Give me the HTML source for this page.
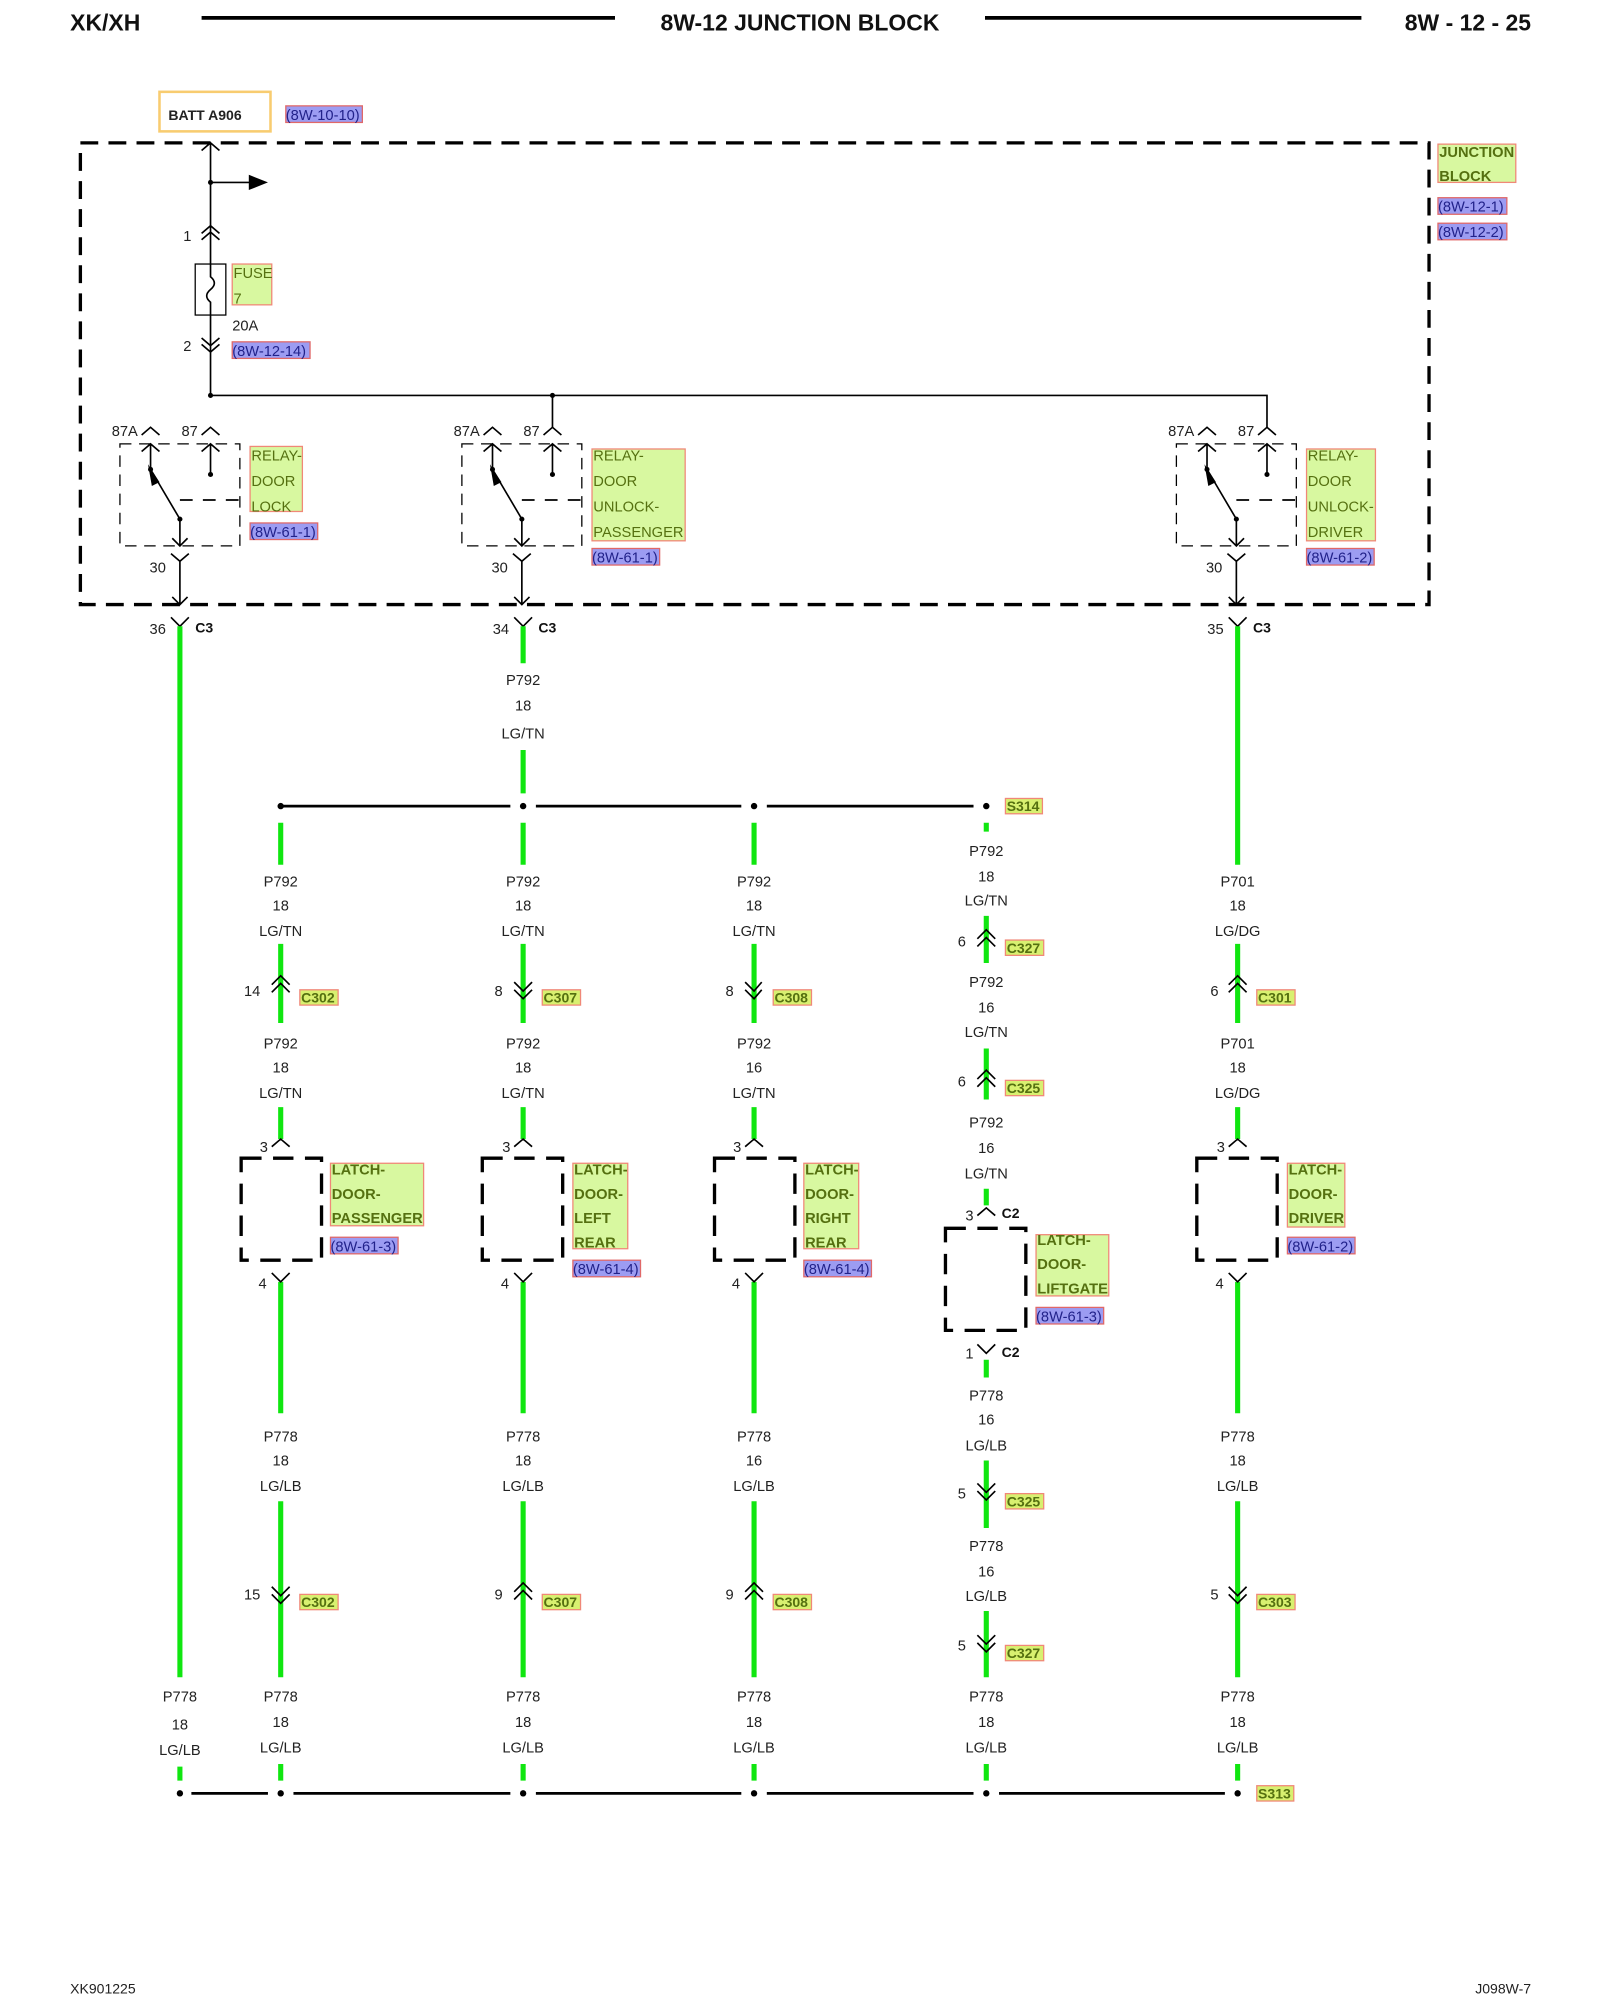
<!DOCTYPE html>
<html><head><meta charset="utf-8"><style>
html,body{margin:0;padding:0;background:#fff}
svg{display:block}
text{font-family:"Liberation Sans",sans-serif;font-size:11.5px;fill:#222}
.m{text-anchor:middle}
.e{text-anchor:end}
.h{font-size:18px;font-weight:bold;fill:#111}
.lb{fill:#d8f8a0;stroke:#f08878;stroke-width:1}
.lt{fill:#557010}
.bt{fill:#557010;font-weight:bold}
.rb{fill:#9c9cf2;stroke:#e06868;stroke-width:1}
.rt{fill:#22228a}
.cb{fill:#d8f070;stroke:#f08878;stroke-width:1}
.ct{fill:#557010;font-weight:bold;font-size:11px}
.cn{fill:#111;font-weight:bold;font-size:11px}
.g{stroke:#10e610;stroke-width:4;fill:none}
.k{stroke:#000;stroke-width:1.3;fill:none}
.kb{stroke:#000;stroke-width:2.2;fill:none}
.db{stroke:#000;stroke-width:2.6;fill:none;stroke-dasharray:14 8}
.dr{stroke:#000;stroke-width:1;fill:none;stroke-dasharray:9 6}
.dl{stroke:#000;stroke-width:2.6;fill:none;stroke-dasharray:16 9}
</style></head><body>
<svg width="1600" height="2000" viewBox="0 0 1254 1568" preserveAspectRatio="none" xmlns="http://www.w3.org/2000/svg">
<text x="55" y="24" class="h">XK/XH</text>
<line x1="158" y1="14" x2="482" y2="14" stroke="#000" stroke-width="3"/>
<text x="627" y="24" class="h m">8W-12 JUNCTION BLOCK</text>
<line x1="772" y1="14" x2="1067" y2="14" stroke="#000" stroke-width="3"/>
<text x="1200" y="24" class="h e">8W - 12 - 25</text>

<rect x="125" y="72" width="87" height="31" fill="none" stroke="#f8cc70" stroke-width="2"/>
<text x="132" y="94" style="font-weight:bold;font-size:11px">BATT A906</text>
<rect class="rb" x="224" y="83" width="60" height="13"/><text x="224" y="94" class="rt">(8W-10-10)</text>

<rect class="db" x="63" y="112" width="1057" height="362"/>
<rect class="lb" x="1127" y="113" width="61" height="30"/>
<text x="1128" y="123" class="bt">JUNCTION</text><text x="1128" y="142" class="bt">BLOCK</text>
<rect class="rb" x="1127" y="155" width="54" height="13"/><text x="1127" y="166" class="rt">(8W-12-1)</text>
<rect class="rb" x="1127" y="175" width="54" height="13"/><text x="1127" y="186" class="rt">(8W-12-2)</text>

<path class="k" d="M165 112 V310 M158 118 L165 112 L172 118"/>
<circle cx="165" cy="143" r="2" fill="#000"/>
<path class="k" d="M165 143 H196"/><path d="M195 137 L210 143 L195 149Z" fill="#000"/>
<path class="k" d="M158 183 L165 177 L172 183 M158 188 L165 182 L172 188"/>
<text x="150" y="189" class="e">1</text>
<rect x="153" y="207" width="24" height="40" fill="#fff" stroke="#000" stroke-width="1"/>
<path class="k" d="M165 207 V217 Q171 222 165 227 Q159 232 165 237 V247" fill="none"/>
<rect class="lb" x="182" y="207" width="31" height="32"/>
<text x="183" y="218" class="lt">FUSE</text><text x="183" y="238" class="lt">7</text>
<text x="182" y="259">20A</text>
<path class="k" d="M158 265 L165 271 L172 265 M158 270 L165 276 L172 270"/>
<text x="150" y="275" class="e">2</text>
<rect class="rb" x="182" y="268" width="61" height="13"/><text x="182" y="279" class="rt">(8W-12-14)</text>
<path class="k" d="M165 310 H993 V335 M433 310 V335"/>
<circle cx="165" cy="310" r="2" fill="#000"/><circle cx="433" cy="310" r="2" fill="#000"/>

<g id="r1">
<text x="108" y="342" class="e">87A</text><text x="155" y="342" class="e">87</text>
<path class="k" d="M111 341 L118 335 L125 341 M158 341 L165 335 L172 341"/>
<rect class="dr" x="94" y="348" width="94" height="80"/>
<path class="k" d="M118 348 V368 M111 354 L118 348 L125 354 M165 348 V372 M158 354 L165 348 L172 354"/>
<circle cx="118" cy="368" r="2" fill="#000"/><circle cx="165" cy="372" r="2" fill="#000"/>
<path class="k" d="M118 368 L141 407 V428 M135 422 L141 428 L147 422"/>
<path d="M116 364 L125 378 L119 381Z" fill="#000"/>
<circle cx="141" cy="407" r="2" fill="#000"/>
<path class="k" d="M141 392 H188" stroke-dasharray="10 8"/>
<path class="k" d="M134 434 L141 440 L148 434 M141 440 V474 M135 468 L141 474 L147 468"/>
<text x="130" y="449" class="e">30</text>
</g>
<use href="#r1" x="268"/>
<use href="#r1" x="828"/>
<rect class="lb" x="196" y="350" width="41" height="51"/>
<text x="197" y="361" class="lt">RELAY-</text><text x="197" y="381" class="lt">DOOR</text><text x="197" y="401" class="lt">LOCK</text>
<rect class="rb" x="196" y="410" width="53" height="13"/><text x="196" y="421" class="rt">(8W-61-1)</text>
<rect class="lb" x="464" y="352" width="73" height="72"/>
<text x="465" y="361" class="lt">RELAY-</text><text x="465" y="381" class="lt">DOOR</text><text x="465" y="401" class="lt">UNLOCK-</text><text x="465" y="421" class="lt">PASSENGER</text>
<rect class="rb" x="464" y="430" width="53" height="13"/><text x="464" y="441" class="rt">(8W-61-1)</text>
<rect class="lb" x="1024" y="352" width="54" height="72"/>
<text x="1025" y="361" class="lt">RELAY-</text><text x="1025" y="381" class="lt">DOOR</text><text x="1025" y="401" class="lt">UNLOCK-</text><text x="1025" y="421" class="lt">DRIVER</text>
<rect class="rb" x="1024" y="430" width="53" height="13"/><text x="1024" y="441" class="rt">(8W-61-2)</text>

<g class="k"><path d="M134 484 L141 491 L148 484 M403 484 L410 491 L417 484 M963 484 L970 491 L977 484"/></g>
<text x="130" y="497" class="e">36</text><text x="153" y="496" class="cn">C3</text>
<text x="399" y="497" class="e">34</text><text x="422" y="496" class="cn">C3</text>
<text x="959" y="497" class="e">35</text><text x="982" y="496" class="cn">C3</text>

<path class="g" d="M141 491 V1315 M141 1385 V1396
M410 491 V520 M410 588 V622
M220 645 V678 M220 740 V802 M220 868 V893 M220 1005 V1108 M220 1177 V1315 M220 1383 V1396
M410 645 V678 M410 740 V802 M410 868 V893 M410 1005 V1108 M410 1177 V1315 M410 1383 V1396
M591 645 V678 M591 740 V802 M591 868 V893 M591 1005 V1108 M591 1177 V1315 M591 1383 V1396
M773 645 V652 M773 718 V755 M773 822 V862 M773 932 V945 M773 1066 V1080 M773 1145 V1198 M773 1263 V1315 M773 1383 V1396
M970 491 V678 M970 740 V802 M970 868 V893 M970 1005 V1108 M970 1177 V1315 M970 1383 V1396"/>

<path class="kb" d="M220 632 H400 M420 632 H581 M601 632 H763"/>
<g fill="#000"><circle cx="220" cy="632" r="2.5"/><circle cx="410" cy="632" r="2.5"/><circle cx="591" cy="632" r="2.5"/><circle cx="773" cy="632" r="2.5"/></g>
<rect class="cb" x="788" y="626" width="29" height="12"/><text x="789" y="636" class="ct">S314</text>

<text x="410" y="537" class="m">P792</text><text x="410" y="557" class="m">18</text><text x="410" y="579" class="m">LG/TN</text>

<g>
<text x="220" y="695" class="m">P792</text><text x="220" y="714" class="m">18</text><text x="220" y="734" class="m">LG/TN</text>
<text x="410" y="695" class="m">P792</text><text x="410" y="714" class="m">18</text><text x="410" y="734" class="m">LG/TN</text>
<text x="591" y="695" class="m">P792</text><text x="591" y="714" class="m">18</text><text x="591" y="734" class="m">LG/TN</text>
<text x="970" y="695" class="m">P701</text><text x="970" y="714" class="m">18</text><text x="970" y="734" class="m">LG/DG</text>
<text x="220" y="822" class="m">P792</text><text x="220" y="841" class="m">18</text><text x="220" y="861" class="m">LG/TN</text>
<text x="410" y="822" class="m">P792</text><text x="410" y="841" class="m">18</text><text x="410" y="861" class="m">LG/TN</text>
<text x="591" y="822" class="m">P792</text><text x="591" y="841" class="m">16</text><text x="591" y="861" class="m">LG/TN</text>
<text x="970" y="822" class="m">P701</text><text x="970" y="841" class="m">18</text><text x="970" y="861" class="m">LG/DG</text>
<text x="773" y="671" class="m">P792</text><text x="773" y="691" class="m">18</text><text x="773" y="710" class="m">LG/TN</text>
<text x="773" y="774" class="m">P792</text><text x="773" y="794" class="m">16</text><text x="773" y="813" class="m">LG/TN</text>
<text x="773" y="884" class="m">P792</text><text x="773" y="904" class="m">16</text><text x="773" y="924" class="m">LG/TN</text>
<text x="220" y="1130" class="m">P778</text><text x="220" y="1149" class="m">18</text><text x="220" y="1169" class="m">LG/LB</text>
<text x="410" y="1130" class="m">P778</text><text x="410" y="1149" class="m">18</text><text x="410" y="1169" class="m">LG/LB</text>
<text x="591" y="1130" class="m">P778</text><text x="591" y="1149" class="m">16</text><text x="591" y="1169" class="m">LG/LB</text>
<text x="970" y="1130" class="m">P778</text><text x="970" y="1149" class="m">18</text><text x="970" y="1169" class="m">LG/LB</text>
<text x="773" y="1098" class="m">P778</text><text x="773" y="1117" class="m">16</text><text x="773" y="1137" class="m">LG/LB</text>
<text x="773" y="1216" class="m">P778</text><text x="773" y="1236" class="m">16</text><text x="773" y="1255" class="m">LG/LB</text>
<text x="141" y="1334" class="m">P778</text><text x="141" y="1356" class="m">18</text><text x="141" y="1376" class="m">LG/LB</text>
<text x="220" y="1334" class="m">P778</text><text x="220" y="1354" class="m">18</text><text x="220" y="1374" class="m">LG/LB</text>
<text x="410" y="1334" class="m">P778</text><text x="410" y="1354" class="m">18</text><text x="410" y="1374" class="m">LG/LB</text>
<text x="591" y="1334" class="m">P778</text><text x="591" y="1354" class="m">18</text><text x="591" y="1374" class="m">LG/LB</text>
<text x="773" y="1334" class="m">P778</text><text x="773" y="1354" class="m">18</text><text x="773" y="1374" class="m">LG/LB</text>
<text x="970" y="1334" class="m">P778</text><text x="970" y="1354" class="m">18</text><text x="970" y="1374" class="m">LG/LB</text>
</g>

<g class="k">
<path d="M213 772 L220 765 L227 772 M213 778 L220 771 L227 778"/>
<path d="M403 770 L410 777 L417 770 M403 776 L410 783 L417 776"/>
<path d="M584 770 L591 777 L597 770 M584 776 L591 783 L597 776"/>
<path d="M963 772 L970 765 L977 772 M963 778 L970 771 L977 778"/>
<path d="M766 736 L773 729 L780 736 M766 742 L773 735 L780 742"/>
<path d="M766 846 L773 839 L780 846 M766 852 L773 845 L780 852"/>
<path d="M213 1244 L220 1251 L227 1244 M213 1250 L220 1257 L227 1250"/>
<path d="M403 1248 L410 1241 L417 1248 M403 1254 L410 1247 L417 1254"/>
<path d="M584 1248 L591 1241 L598 1248 M584 1254 L591 1247 L598 1254"/>
<path d="M963 1244 L970 1251 L977 1244 M963 1250 L970 1257 L977 1250"/>
<path d="M766 1163 L773 1170 L780 1163 M766 1169 L773 1176 L780 1169"/>
<path d="M766 1282 L773 1289 L780 1282 M766 1288 L773 1295 L780 1288"/>
<path d="M213 899 L220 893 L227 899 M403 899 L410 893 L417 899 M584 899 L591 893 L598 899 M963 899 L970 893 L977 899 M766 953 L773 947 L780 953"/>
<path d="M213 998 L220 1005 L227 998 M403 998 L410 1005 L417 998 M584 998 L591 1005 L598 998 M963 998 L970 1005 L977 998 M766 1054 L773 1061 L780 1054"/>
</g>
<text x="204" y="781" class="e">14</text><rect class="cb" x="235" y="776" width="30" height="12"/><text x="236" y="786" class="ct">C302</text>
<text x="394" y="781" class="e">8</text><rect class="cb" x="425" y="776" width="30" height="12"/><text x="426" y="786" class="ct">C307</text>
<text x="575" y="781" class="e">8</text><rect class="cb" x="606" y="776" width="30" height="12"/><text x="607" y="786" class="ct">C308</text>
<text x="955" y="781" class="e">6</text><rect class="cb" x="985" y="776" width="30" height="12"/><text x="986" y="786" class="ct">C301</text>
<text x="757" y="742" class="e">6</text><rect class="cb" x="788" y="737" width="30" height="12"/><text x="789" y="747" class="ct">C327</text>
<text x="757" y="852" class="e">6</text><rect class="cb" x="788" y="847" width="30" height="12"/><text x="789" y="857" class="ct">C325</text>
<text x="204" y="1254" class="e">15</text><rect class="cb" x="235" y="1250" width="30" height="12"/><text x="236" y="1260" class="ct">C302</text>
<text x="394" y="1254" class="e">9</text><rect class="cb" x="425" y="1250" width="30" height="12"/><text x="426" y="1260" class="ct">C307</text>
<text x="575" y="1254" class="e">9</text><rect class="cb" x="606" y="1250" width="30" height="12"/><text x="607" y="1260" class="ct">C308</text>
<text x="955" y="1254" class="e">5</text><rect class="cb" x="985" y="1250" width="30" height="12"/><text x="986" y="1260" class="ct">C303</text>
<text x="757" y="1175" class="e">5</text><rect class="cb" x="788" y="1171" width="30" height="12"/><text x="789" y="1181" class="ct">C325</text>
<text x="757" y="1294" class="e">5</text><rect class="cb" x="788" y="1290" width="30" height="12"/><text x="789" y="1300" class="ct">C327</text>

<text x="210" y="903" class="e">3</text><text x="400" y="903" class="e">3</text><text x="581" y="903" class="e">3</text><text x="960" y="903" class="e">3</text>
<text x="763" y="957" class="e">3</text><text x="785" y="955" class="cn">C2</text>
<text x="209" y="1010" class="e">4</text><text x="399" y="1010" class="e">4</text><text x="580" y="1010" class="e">4</text><text x="959" y="1010" class="e">4</text>
<text x="763" y="1065" class="e">1</text><text x="785" y="1064" class="cn">C2</text>

<rect class="dl" x="189" y="908" width="63" height="80"/>
<rect class="dl" x="378" y="908" width="63" height="80"/>
<rect class="dl" x="560" y="908" width="63" height="80"/>
<rect class="dl" x="938" y="908" width="63" height="80"/>
<rect class="dl" x="741" y="963" width="63" height="80"/>

<rect class="lb" x="259" y="912" width="73" height="49"/>
<text x="260" y="921" class="bt">LATCH-</text><text x="260" y="940" class="bt">DOOR-</text><text x="260" y="959" class="bt">PASSENGER</text>
<rect class="rb" x="259" y="970" width="53" height="13"/><text x="259" y="981" class="rt">(8W-61-3)</text>
<rect class="lb" x="449" y="912" width="43" height="67"/>
<text x="450" y="921" class="bt">LATCH-</text><text x="450" y="940" class="bt">DOOR-</text><text x="450" y="959" class="bt">LEFT</text><text x="450" y="978" class="bt">REAR</text>
<rect class="rb" x="449" y="988" width="53" height="13"/><text x="449" y="999" class="rt">(8W-61-4)</text>
<rect class="lb" x="630" y="912" width="43" height="67"/>
<text x="631" y="921" class="bt">LATCH-</text><text x="631" y="940" class="bt">DOOR-</text><text x="631" y="959" class="bt">RIGHT</text><text x="631" y="978" class="bt">REAR</text>
<rect class="rb" x="630" y="988" width="53" height="13"/><text x="630" y="999" class="rt">(8W-61-4)</text>
<rect class="lb" x="1009" y="912" width="45" height="50"/>
<text x="1010" y="921" class="bt">LATCH-</text><text x="1010" y="940" class="bt">DOOR-</text><text x="1010" y="959" class="bt">DRIVER</text>
<rect class="rb" x="1009" y="970" width="53" height="13"/><text x="1009" y="981" class="rt">(8W-61-2)</text>
<rect class="lb" x="812" y="968" width="57" height="48"/>
<text x="813" y="976" class="bt">LATCH-</text><text x="813" y="995" class="bt">DOOR-</text><text x="813" y="1014" class="bt">LIFTGATE</text>
<rect class="rb" x="812" y="1025" width="53" height="13"/><text x="812" y="1036" class="rt">(8W-61-3)</text>

<path class="kb" d="M150 1406 H210 M230 1406 H400 M420 1406 H581 M601 1406 H763 M783 1406 H960"/>
<g fill="#000"><circle cx="141" cy="1406" r="2.5"/><circle cx="220" cy="1406" r="2.5"/><circle cx="410" cy="1406" r="2.5"/><circle cx="591" cy="1406" r="2.5"/><circle cx="773" cy="1406" r="2.5"/><circle cx="970" cy="1406" r="2.5"/></g>
<rect class="cb" x="985" y="1400" width="29" height="12"/><text x="986" y="1410" class="ct">S313</text>

<text x="55" y="1563" style="font-size:11px">XK901225</text>
<text x="1200" y="1563" class="e" style="font-size:11px">J098W-7</text>
</svg>
</body></html>
